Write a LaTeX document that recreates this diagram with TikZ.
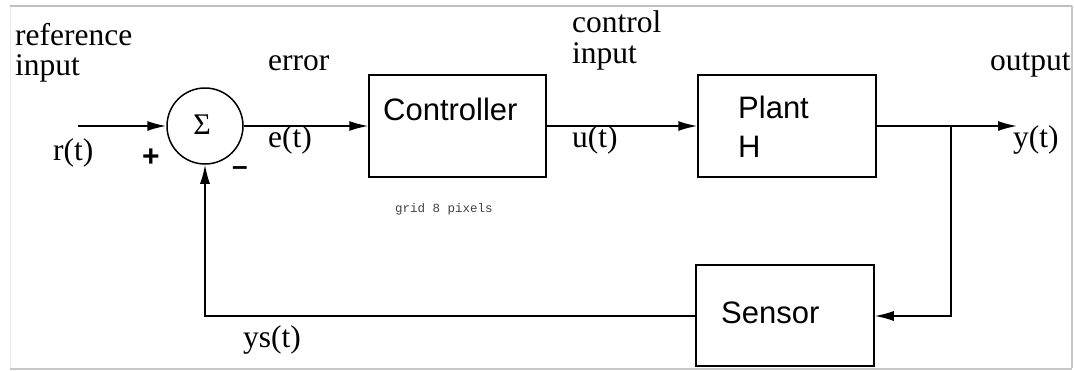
\documentclass[tikz,border=0pt]{standalone}
\usepackage{fontspec}
\setmainfont{Liberation Serif}
\setsansfont{Liberation Sans}
\setmonofont{Liberation Mono}
\usetikzlibrary{arrows.meta}
\begin{document}
\begin{tikzpicture}[x=1pt,y=-1pt,
  lbl/.style={font=\fontsize{31.5}{31.5}\selectfont, anchor=base west, inner sep=0pt},
  boxtxt/.style={font=\sffamily\fontsize{31}{31}\selectfont, anchor=base west, inner sep=0pt},
  blk/.style={draw, line width=1.5pt, inner sep=0pt},
  conn/.style={line width=1.6pt},
  arr/.style={conn, -{Latex[length=19pt,width=10pt]}}]
\useasboundingbox (0,0) rectangle (1074,370);
% frame
\draw[line width=1pt, black!8] (10.5,6) -- (10.5,368);
\draw[line width=2pt, black!25] (10,6) -- (1072,6);
\draw[line width=2pt, black!22] (1072,6) -- (1072,368);
\draw[line width=2pt, black!22] (10,368.5) -- (1072,368.5);
% blocks
\node[blk, circle, minimum size=76pt] (sum) at (205,126) {};
\node[font=\fontsize{30}{30}\selectfont, inner sep=0pt] (sig) at (202,125) {Σ};
\node[blk, minimum width=177pt, minimum height=102pt] (ctrl) at (457.5,126) {};
\node[blk, minimum width=178pt, minimum height=102pt] (plant) at (787,126) {};
\node[blk, minimum width=178pt, minimum height=101pt] (sens) at (785,315.5) {};
\node[boxtxt] (ctrlt) at (383,120) {Controller};
\node[boxtxt] (plantt) at (738,118) {Plant};
\node[boxtxt] (planth) at (738,157) {H};
\node[boxtxt] (senst) at (721,323) {Sensor};
% coordinates
\coordinate (rin) at (78,126);
\coordinate (yout) at (1017,126);
\coordinate (br) at (951,126);
\coordinate (brd) at (951,316);
\coordinate (fbl) at (205,316);
% connectors
\draw[arr] (rin) -- (sum.west);
\draw[arr] (sum.east) -- (ctrl.west);
\draw[arr] (ctrl.east) -- (plant.west);
\draw[arr] (plant.east) -- (yout);
\draw[arr] (br) -- (brd) -- (sens.east |- brd);
\draw[arr] (sens.west |- fbl) -- (fbl) -- (sum.south);
% labels
\node[lbl] (ref1) at (15,45) {reference};
\node[lbl] (ref2) at (15,75) {input};
\node[lbl] (rt) at (53,160) {r(t)};
\node[lbl] (err) at (268,70) {error};
\node[lbl] (et) at (268,147) {e(t)};
\node[lbl] (ci1) at (572,32) {control};
\node[lbl] (ci2) at (572,63) {input};
\node[lbl] (ut) at (572,147) {u(t)};
\node[lbl] (outl) at (990,70) {output};
\node[lbl] (yt) at (1013,147) {y(t)};
\node[lbl] (yst) at (243,347) {ys(t)};
\node[font=\sffamily\bfseries\fontsize{30}{30}\selectfont, inner sep=0pt] (plus) at (151,158) {+};
\node[font=\sffamily\bfseries\fontsize{28}{28}\selectfont, inner sep=0pt] (minus) at (240,171) {\textendash};
\node[font=\ttfamily\fontsize{12.5}{12.5}\selectfont, anchor=base west, inner sep=0pt, text=black!75] (grid) at (395,212) {grid 8 pixels};
\end{tikzpicture}
\end{document}
